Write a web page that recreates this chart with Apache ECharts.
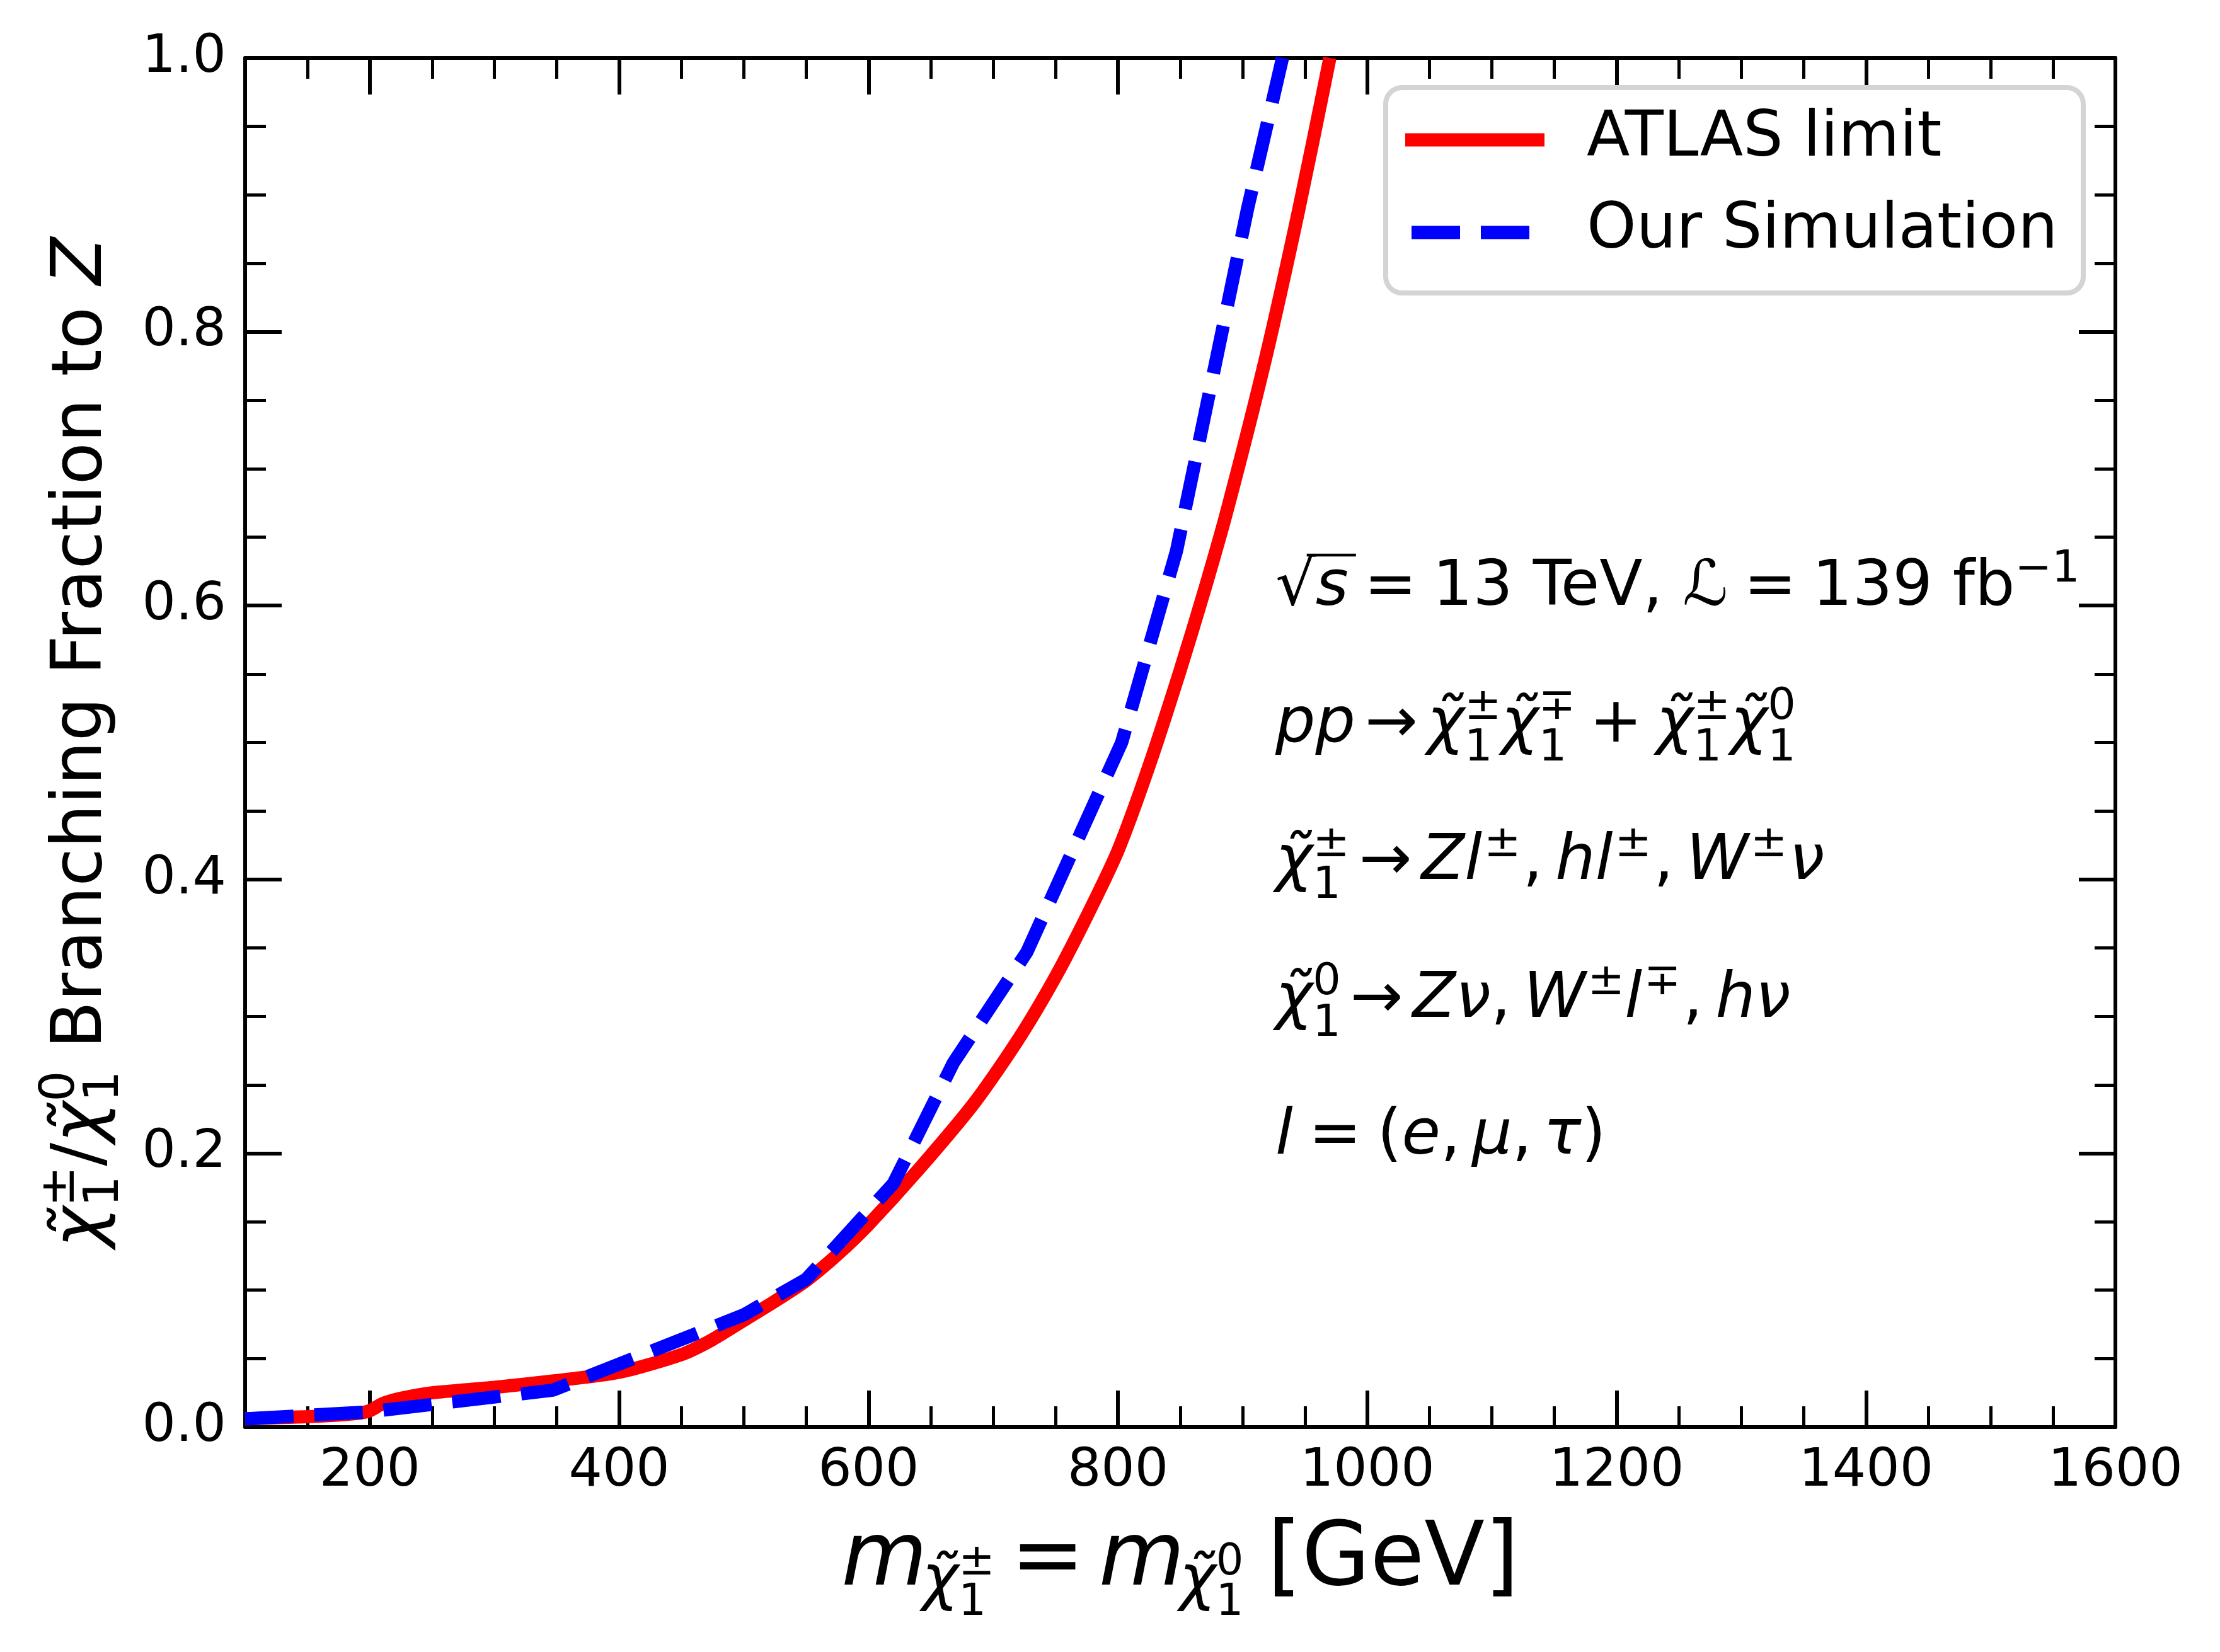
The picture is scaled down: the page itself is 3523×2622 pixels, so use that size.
<!DOCTYPE html>
<html>
<head>
<meta charset="utf-8">
<script src="https://cdn.jsdelivr.net/npm/echarts@6/dist/echarts.min.js"></script>
<style>
html,body{margin:0;padding:0;background:#fff;}
#chart{width:3523px;height:2622px;}
</style>
</head>
<body>
<div id="chart"></div>
<script>
// ---------------- data ----------------
const atlasX = [100, 130, 160, 190, 200, 210, 225, 250, 300, 350, 400, 450, 475, 500, 525, 550, 575, 600, 640, 685, 720, 750, 775, 800, 825, 850, 870, 888, 918, 945, 970];
const atlasY = [0.006, 0.007, 0.008, 0.010, 0.012, 0.017, 0.021, 0.025, 0.029, 0.034, 0.040, 0.053, 0.064, 0.078, 0.092, 0.107, 0.126, 0.148, 0.188, 0.237, 0.283, 0.329, 0.373, 0.421, 0.483, 0.553, 0.613, 0.671, 0.779, 0.889, 1.0];
const simX = [100, 198, 347, 500, 550, 620, 668, 727, 803, 847, 904, 932];
const simY = [0.006, 0.011, 0.027, 0.082, 0.108, 0.178, 0.266, 0.347, 0.500, 0.640, 0.890, 1.0];
const seriesNames = ['ATLAS limit', 'Our Simulation'];
const xMajorTicks = [200, 400, 600, 800, 1000, 1200, 1400, 1600];
const xMinorTicks = [150, 250, 300, 350, 450, 500, 550, 650, 700, 750, 850, 900, 950, 1050, 1100, 1150, 1250, 1300, 1350, 1450, 1500, 1550];
const yMajorTicks = [0, 0.2, 0.4, 0.6, 0.8, 1.0];
const yMinorTicks = [0.05, 0.1, 0.15, 0.25, 0.3, 0.35, 0.45, 0.5, 0.55, 0.65, 0.7, 0.75, 0.85, 0.9, 0.95];

const RED = '#ff0000', BLUE = '#0000ff';
const DASH = [77, 33];

// ---------------- math text helper ----------------
const FONT = '"DejaVu Sans"';
const mctx = document.createElement('canvas').getContext('2d');
function fnt(size, it) { return (it ? 'italic ' : '') + size + 'px ' + FONT; }
function wid(t, size, it) { mctx.font = fnt(size, it); return mctx.measureText(t).width; }
let MIDK = null;
function mid(size) {
  if (MIDK === null) {
    mctx.font = fnt(1000, false);
    mctx.textBaseline = 'alphabetic';
    const a = mctx.measureText('H').actualBoundingBoxAscent;
    mctx.textBaseline = 'middle';
    const b = mctx.measureText('H').actualBoundingBoxAscent;
    mctx.textBaseline = 'alphabetic';
    MIDK = (a - b) / 1000;
    if (!isFinite(MIDK) || MIDK <= 0) MIDK = 0.33;
  }
  return MIDK * size;
}
function txt(t, x, base, size, it) {
  return {
    type: 'text', x: x, y: base - mid(size), silent: true,
    style: { text: t, font: fnt(size, it), fill: '#000', textAlign: 'left', verticalAlign: 'middle', textVerticalAlign: 'middle' }
  };
}
function mathRow(tokens, F) {
  const els = [];
  let x = 0;
  for (const tk of tokens) {
    if (tk.gap) x += tk.gap * F;
    if (tk.st) {
      const s = tk.s * F;
      const w1 = wid(tk.sup, s, false), w2 = wid(tk.sub, s, false);
      els.push(txt(tk.sup, x, tk.supDy * F, s, false));
      els.push(txt(tk.sub, x, tk.subDy * F, s, false));
      x += Math.max(w1, w2);
    } else {
      const s = (tk.s || 1) * F;
      const dy = (tk.dy || 0) * F;
      const w = wid(tk.t, s, !!tk.it);
      els.push(txt(tk.t, x, dy, s, !!tk.it));
      if (tk.over) {
        els.push({ type: 'line', silent: true, shape: { x1: x - 0.14 * F, y1: -0.79 * F, x2: x + w + 0.12 * F, y2: -0.79 * F }, style: { stroke: '#000', lineWidth: 0.045 * F } });
      }
      x += w;
    }
  }
  return { els: els, width: x };
}
const CHI = 'χ\u0303';

// ---------------- layout constants ----------------
const G = { left: 389, top: 92, right: 166, bottom: 357 };
const W = 3523, H = 2622;
const plotCx = (G.left + (W - G.right)) / 2;
const plotCy = (G.top + (H - G.bottom)) / 2;

function buildGraphics() {
  const out = [];
  // legend (matplotlib-style frame)
  out.push({ type: 'rect', silent: true, shape: { x: 2199, y: 139, width: 1107, height: 326, r: 26 }, style: { fill: '#fff', stroke: '#d4d4d4', lineWidth: 8 }, z: 10 });
  out.push({ type: 'line', silent: true, shape: { x1: 2230, y1: 222, x2: 2451, y2: 222 }, style: { stroke: RED, lineWidth: 21 }, z: 11 });
  out.push({ type: 'line', silent: true, shape: { x1: 2240, y1: 369, x2: 2428, y2: 369 }, style: { stroke: BLUE, lineWidth: 21, lineDash: DASH }, z: 11 });
  out.push({ type: 'text', silent: true, x: 2518, y: 221, style: { text: seriesNames[0], font: '100px ' + FONT, fill: '#000', textAlign: 'left', verticalAlign: 'middle', textVerticalAlign: 'middle' }, z: 11 });
  out.push({ type: 'text', silent: true, x: 2518, y: 367, style: { text: seriesNames[1], font: '100px ' + FONT, fill: '#000', textAlign: 'left', verticalAlign: 'middle', textVerticalAlign: 'middle' }, z: 11 });

  // x label
  const xl = mathRow([
    { t: 'm', it: 1 },
    { t: CHI, it: 1, s: 0.7, dy: 0.157, gap: -0.06 },
    { st: 1, sup: '±', sub: '1', s: 0.49, supDy: -0.114, subDy: 0.343 },
    { t: '=', gap: 0.18 },
    { t: 'm', it: 1, gap: 0.16 },
    { t: CHI, it: 1, s: 0.7, dy: 0.157, gap: -0.06 },
    { st: 1, sup: '0', sub: '1', s: 0.49, supDy: -0.114, subDy: 0.343 },
    { t: '[GeV]', gap: 0.27 }
  ], 140);
  out.push({ type: 'group', x: plotCx - xl.width / 2, y: 2515, children: xl.els });

  // y label (rotated)
  const yl = mathRow([
    { t: CHI, it: 1 },
    { st: 1, sup: '±', sub: '1', s: 0.7, supDy: -0.39, subDy: 0.25 },
    { t: '/' },
    { t: CHI, it: 1 },
    { st: 1, sup: '0', sub: '1', s: 0.7, supDy: -0.39, subDy: 0.25 },
    { t: ' Branching Fraction to ' },
    { t: 'Z', it: 1 }
  ], 110);
  out.push({ type: 'group', x: 160, y: plotCy + yl.width / 2, rotation: Math.PI / 2, children: yl.els });

  // annotation lines
  const F = 100, ax = 2024;
  const sup = (t) => ({ t: t, s: 0.7, dy: -0.36, gap: 0.03 });
  const stk = (a, b) => ({ st: 1, sup: a, sub: b, s: 0.7, supDy: -0.36, subDy: 0.30 });
  const lines = [
    { base: 960, tk: [
      { t: '√' }, { t: 's', it: 1, over: 1 }, { t: '=', gap: 0.25 }, { t: '13 TeV, ', gap: 0.25 },
      { t: 'ℒ', it: 1 }, { t: '=', gap: 0.25 }, { t: '139 fb', gap: 0.25 }, { t: '−1', s: 0.7, dy: -0.37 }
    ] },
    { base: 1177, tk: [
      { t: 'pp', it: 1 }, { t: '→', gap: 0.15 }, { t: CHI, it: 1, gap: 0.15 }, stk('±', '1'),
      { t: CHI, it: 1 }, stk('∓', '1'), { t: '+', gap: 0.22 }, { t: CHI, it: 1, gap: 0.22 }, stk('±', '1'),
      { t: CHI, it: 1 }, stk('0', '1')
    ] },
    { base: 1395, tk: [
      { t: CHI, it: 1 }, stk('±', '1'), { t: '→', gap: 0.15 }, { t: 'Zl', it: 1, gap: 0.15 }, sup('±'), { t: ',', gap: 0.03 },
      { t: 'hl', it: 1, gap: 0.2 }, sup('±'), { t: ',', gap: 0.03 }, { t: 'W', it: 1, gap: 0.2 }, sup('±'), { t: 'ν', it: 1, gap: 0.03 }
    ] },
    { base: 1614, tk: [
      { t: CHI, it: 1 }, stk('0', '1'), { t: '→', gap: 0.15 }, { t: 'Zν', it: 1, gap: 0.15 }, { t: ',' },
      { t: 'W', it: 1, gap: 0.2 }, sup('±'), { t: 'l', it: 1 }, sup('∓'), { t: ',', gap: 0.03 }, { t: 'hν', it: 1, gap: 0.2 }
    ] },
    { base: 1831, tk: [
      { t: 'l', it: 1 }, { t: '=', gap: 0.25 }, { t: '(', gap: 0.25 }, { t: 'e', it: 1 }, { t: ',' },
      { t: 'μ', it: 1, gap: 0.18 }, { t: ',' }, { t: 'τ', it: 1, gap: 0.18 }, { t: ')' }
    ] }
  ];
  for (const ln of lines) {
    const r = mathRow(ln.tk, F);
    out.push({ type: 'group', x: ax, y: ln.base, children: r.els });
  }
  return out;
}

// ---------------- axes ----------------
const AX = '#000';
function xAxisDef(pos, ticks, len, tw, labels, line) {
  return {
    type: 'value', position: pos, min: 100, max: 1600,
    axisLine: { show: line, onZero: false, lineStyle: { color: AX, width: 6 } },
    axisTick: { show: true, inside: true, length: len, lineStyle: { color: AX, width: tw }, customValues: ticks },
    axisLabel: labels ? { show: true, customValues: xMajorTicks, fontSize: 84, fontFamily: 'DejaVu Sans', color: '#000', margin: 29, formatter: v => String(v) } : { show: false },
    splitLine: { show: false }, minorTick: { show: false }
  };
}
function yAxisDef(pos, ticks, len, tw, labels, line) {
  return {
    type: 'value', position: pos, min: 0, max: 1,
    axisLine: { show: line, onZero: false, lineStyle: { color: AX, width: 6 } },
    axisTick: { show: true, inside: true, length: len, lineStyle: { color: AX, width: tw }, customValues: ticks },
    axisLabel: labels ? { show: true, customValues: yMajorTicks, fontSize: 84, fontFamily: 'DejaVu Sans', color: '#000', margin: 30, formatter: v => v.toFixed(1) } : { show: false },
    splitLine: { show: false }, minorTick: { show: false }
  };
}

const chart = echarts.init(document.getElementById('chart'), null, { renderer: 'canvas' });
const option = {
  animation: false,
  backgroundColor: '#fff',
  grid: { left: G.left, top: G.top, right: G.right, bottom: G.bottom, show: false },
  xAxis: [
    xAxisDef('bottom', xMajorTicks, 58, 6, true, true),
    xAxisDef('bottom', xMinorTicks, 33, 5, false, false),
    xAxisDef('top', xMajorTicks, 58, 6, false, true),
    xAxisDef('top', xMinorTicks, 33, 5, false, false)
  ],
  yAxis: [
    yAxisDef('left', yMajorTicks, 58, 6, true, true),
    yAxisDef('left', yMinorTicks, 33, 5, false, false),
    yAxisDef('right', yMajorTicks, 58, 6, false, true),
    yAxisDef('right', yMinorTicks, 33, 5, false, false)
  ],
  series: [
    {
      name: seriesNames[0], type: 'line', xAxisIndex: 0, yAxisIndex: 0,
      data: atlasX.map((x, i) => [x, atlasY[i]]),
      symbol: 'none', smooth: 0.25, clip: true,
      color: RED,
      lineStyle: { color: RED, width: 21, type: 'solid' }, z: 3
    },
    {
      name: seriesNames[1], type: 'line', xAxisIndex: 0, yAxisIndex: 0,
      data: simX.map((x, i) => [x, simY[i]]),
      symbol: 'none', smooth: false, clip: true,
      color: BLUE,
      lineStyle: { color: BLUE, width: 21, type: DASH }, z: 4
    }
  ],
  graphic: { elements: buildGraphics() }
};
chart.setOption(option);
</script>
</body>
</html>
